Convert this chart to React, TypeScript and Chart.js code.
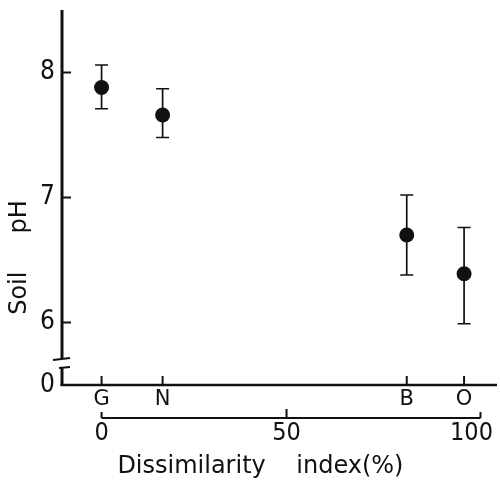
import React, { useEffect, useRef } from 'react';
import { Chart, registerables } from 'chart.js';

Chart.register(...registerables);

// ---- data ----
const categories = ['G', 'N', 'B', 'O'];
const categoryIndex = [0, 16.5, 82.5, 98]; // dissimilarity index (%) of each site
const meanPH = [7.88, 7.66, 6.7, 6.39];
const upperPH = [8.06, 7.87, 7.02, 6.76];
const lowerPH = [7.71, 7.48, 6.38, 5.99];
const yTickValues = [6, 7, 8];
const yBreakValue = 5.5; // bottom of the broken axis, labelled "0"
const yBreakLabel = '0';
const indexTicks = [0, 50, 100];
const yTitle = 'Soil     pH';
const xTitle = 'Dissimilarity    index(%)     ';

const INK = '#111';
const LETTER_FONT = 'DejaVu Sans';
const DIGIT_FONT = "'Liberation Sans Narrow', 'DejaVu Sans Condensed', 'DejaVu Sans', sans-serif";

const X_MIN = -10.7;
const X_MAX = 106.9;

const noPad = (s: any) => {
  s.paddingTop = 0;
  s.paddingBottom = 0;
  s.paddingLeft = 0;
  s.paddingRight = 0;
};

const axisPlugin = {
  id: 'axisDecor',
  beforeDatasetsDraw(chart: any) {
    const { ctx } = chart;
    const xs = chart.scales.x;
    const ys = chart.scales.y;
    ctx.save();
    ctx.strokeStyle = INK;
    ctx.lineWidth = 1.7;
    for (let i = 0; i < meanPH.length; i++) {
      const px = xs.getPixelForValue(categoryIndex[i]);
      const top = ys.getPixelForValue(upperPH[i]);
      const bot = ys.getPixelForValue(lowerPH[i]);
      ctx.beginPath();
      ctx.moveTo(px, top);
      ctx.lineTo(px, bot);
      ctx.moveTo(px - 6.5, top);
      ctx.lineTo(px + 6.5, top);
      ctx.moveTo(px - 6.5, bot);
      ctx.lineTo(px + 6.5, bot);
      ctx.stroke();
    }
    ctx.restore();
  },
  afterDraw(chart: any) {
    const { ctx, chartArea } = chart;
    const xs = chart.scales.x;
    const x2 = chart.scales.x2;
    const ys = chart.scales.y;
    const left = chartArea.left;
    const bottom = chartArea.bottom;
    ctx.save();
    ctx.strokeStyle = INK;
    ctx.lineCap = 'butt';

    // y axis with break
    ctx.lineWidth = 3;
    ctx.beginPath();
    ctx.moveTo(left, chartArea.top);
    ctx.lineTo(left, bottom - 26);
    ctx.stroke();
    ctx.lineWidth = 2;
    ctx.beginPath();
    ctx.moveTo(left - 9, bottom - 25);
    ctx.lineTo(left + 8, bottom - 27);
    ctx.stroke();
    ctx.beginPath();
    ctx.moveTo(left + 8, bottom - 18);
    ctx.lineTo(left - 3, bottom - 17);
    ctx.stroke();
    ctx.lineWidth = 3;
    ctx.beginPath();
    ctx.moveTo(left, bottom - 17);
    ctx.lineTo(left, bottom);
    ctx.stroke();

    // y ticks (inward)
    ctx.lineWidth = 2;
    for (const v of yTickValues) {
      const py = ys.getPixelForValue(v);
      ctx.beginPath();
      ctx.moveTo(left, py);
      ctx.lineTo(left + 9, py);
      ctx.stroke();
    }

    // x axis (category sites)
    ctx.lineWidth = 2.5;
    ctx.beginPath();
    ctx.moveTo(left - 1.5, bottom);
    ctx.lineTo(chartArea.right, bottom);
    ctx.stroke();
    ctx.lineWidth = 2;
    for (const v of categoryIndex) {
      const px = xs.getPixelForValue(v);
      ctx.beginPath();
      ctx.moveTo(px, bottom);
      ctx.lineTo(px, bottom - 9);
      ctx.stroke();
    }

    // lower x axis (dissimilarity index)
    const y2 = x2.top;
    const x0 = x2.getPixelForValue(indexTicks[0]);
    const x1 = x2.getPixelForValue(indexTicks[indexTicks.length - 1]) + 9;
    ctx.lineWidth = 2.2;
    ctx.beginPath();
    ctx.moveTo(x0, y2);
    ctx.lineTo(x1, y2);
    ctx.stroke();
    ctx.lineWidth = 2;
    for (const v of indexTicks) {
      const px = v === indexTicks[indexTicks.length - 1] ? x1 : x2.getPixelForValue(v);
      ctx.beginPath();
      ctx.moveTo(px, y2);
      ctx.lineTo(px, y2 - (v === 50 ? 9 : 6));
      ctx.stroke();
    }

    // y title
    ctx.fillStyle = INK;
    ctx.font = `24px ${LETTER_FONT}`;
    ctx.textAlign = 'center';
    ctx.textBaseline = 'middle';
    ctx.translate(20, (chartArea.top + bottom) / 2 + 60);
    ctx.rotate(-Math.PI / 2);
    ctx.fillText(yTitle, 0, 0);
    ctx.restore();
  },
};

export default function App() {
  const ref = useRef<HTMLCanvasElement | null>(null);
  useEffect(() => {
    document.body.style.margin = '0';
    const canvas = ref.current;
    if (!canvas) return;
    const chart = new Chart(canvas, {
      type: 'scatter',
      data: {
        datasets: [
          {
            data: categoryIndex.map((x, i) => ({ x, y: meanPH[i] })),
            pointRadius: 7.5,
            pointBackgroundColor: INK,
            pointBorderColor: INK,
            pointBorderWidth: 0,
            showLine: false,
            clip: false,
          },
        ],
      },
      options: {
        animation: false,
        responsive: false,
        maintainAspectRatio: false,
        layout: { autoPadding: false, padding: { top: 10, right: 3, left: 0, bottom: 0 } },
        plugins: { legend: { display: false }, tooltip: { enabled: false } },
        scales: {
          x: {
            type: 'linear',
            position: 'bottom',
            weight: 0,
            min: X_MIN,
            max: X_MAX,
            afterBuildTicks: (s: any) => {
              s.ticks = categoryIndex.map((v) => ({ value: v }));
            },
            ticks: {
              callback: (_v: any, i: number) => categories[i],
              autoSkip: false,
              maxRotation: 0,
              padding: 2,
              color: INK,
              font: { family: LETTER_FONT, size: 21 },
            },
            grid: { display: false, drawTicks: false },
            border: { display: false },
            afterFit: (s: any) => {
              s.height = 33;
              noPad(s);
            },
          },
          x2: {
            type: 'linear',
            position: 'bottom',
            weight: 1,
            min: X_MIN,
            max: X_MAX,
            afterBuildTicks: (s: any) => {
              s.ticks = indexTicks.map((v) => ({ value: v }));
            },
            ticks: {
              callback: (v: any) => String(v),
              autoSkip: false,
              maxRotation: 0,
              padding: 0,
              color: INK,
              font: { family: DIGIT_FONT, size: 25 },
            },
            grid: { display: false, drawTicks: false },
            border: { display: false },
            title: {
              display: true,
              text: xTitle,
              color: INK,
              font: { family: LETTER_FONT, size: 24 },
              padding: { top: 0, bottom: 0 },
            },
            afterFit: (s: any) => {
              s.height = 63;
              noPad(s);
            },
          },
          y: {
            type: 'linear',
            min: yBreakValue,
            max: 8.5,
            afterBuildTicks: (s: any) => {
              s.ticks = [yBreakValue, ...yTickValues].map((v) => ({ value: v }));
            },
            ticks: {
              callback: (v: any) => (v === yBreakValue ? yBreakLabel : String(v)),
              autoSkip: false,
              padding: 7,
              color: INK,
              font: { family: DIGIT_FONT, size: 26 },
            },
            grid: { display: false, drawTicks: false },
            border: { display: false },
            afterFit: (s: any) => {
              s.width = 62;
              noPad(s);
            },
          },
        },
      },
      plugins: [axisPlugin],
    });
    return () => chart.destroy();
  }, []);
  return (
    <div style={{ position: 'absolute', left: 0, top: 0, width: 500, height: 481, background: '#fff' }}>
      <canvas ref={ref} width={500} height={481} />
    </div>
  );
}
